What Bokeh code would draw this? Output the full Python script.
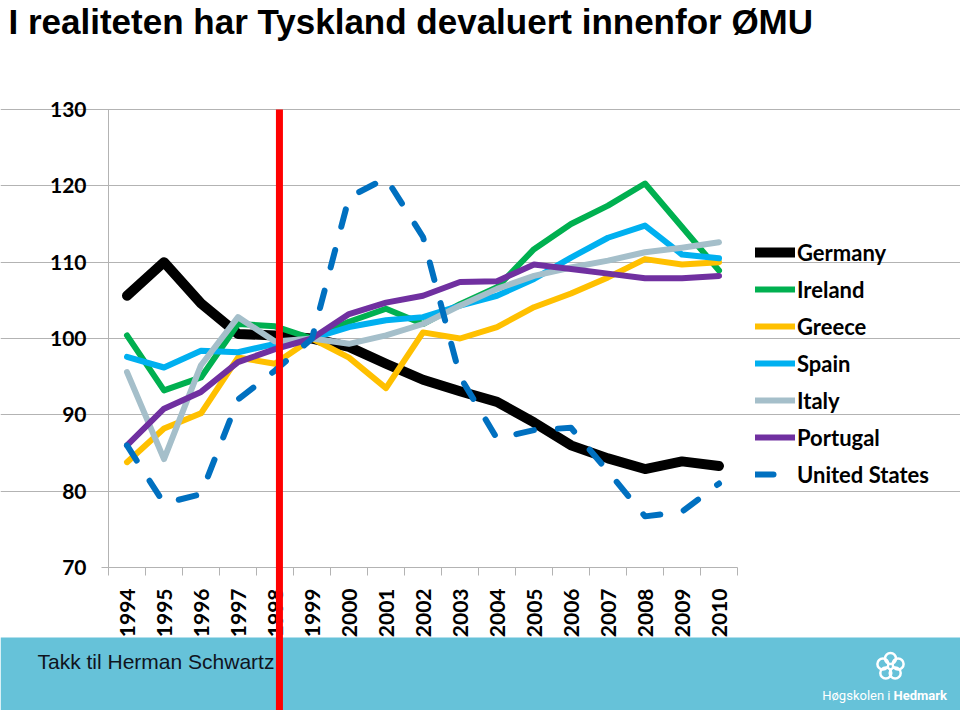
import math
from bokeh.plotting import figure
from bokeh.models import (Range1d, FixedTicker, Label, BoxAnnotation, Legend,
                          LegendItem)
from bokeh.embed import file_html
from bokeh.resources import INLINE

# ---------------- data ----------------
years = list(range(1994, 2011))
germany  = [105.6, 110.0, 104.6, 100.6, 100.4, 100.0, 98.9, 96.7, 94.6, 93.1, 91.7, 89.0, 86.0, 84.3, 82.9, 83.9, 83.3]
ireland  = [100.4, 93.2, 94.9, 101.9, 101.6, 100.0, 102.2, 103.9, 101.9, 104.5, 106.7, 111.7, 115.0, 117.4, 120.3, 114.6, 108.9]
greece   = [83.8, 88.2, 90.2, 97.5, 96.7, 100.0, 97.5, 93.5, 100.8, 100.0, 101.5, 104.1, 105.9, 108.0, 110.4, 109.7, 110.0]
spain    = [97.6, 96.2, 98.4, 98.2, 99.3, 100.0, 101.5, 102.4, 102.8, 104.3, 105.6, 107.8, 110.6, 113.2, 114.8, 111.0, 110.5]
italy    = [95.6, 84.2, 96.5, 102.8, 99.6, 100.0, 99.3, 100.4, 101.9, 104.3, 106.5, 108.2, 109.3, 110.2, 111.3, 111.9, 112.6]
portugal = [86.0, 90.8, 93.0, 96.9, 98.6, 100.0, 103.2, 104.7, 105.6, 107.4, 107.5, 109.7, 109.1, 108.5, 107.9, 107.9, 108.2]
usa      = [86.0, 78.4, 79.6, 92.0, 95.8, 100.0, 118.5, 121.0, 113.3, 95.0, 86.9, 88.0, 88.3, 82.6, 76.7, 77.3, 81.0]

series_names = ["Germany", "Ireland", "Greece", "Spain", "Italy", "Portugal", "United States"]
series_values = [germany, ireland, greece, spain, italy, portugal, usa]
series_colors = ["#000000", "#00B050", "#FFC000", "#00B0F0", "#A5BFCA", "#7030A0", "#0070C0"]
series_widths = [10, 6, 6, 6, 6, 6, 6]
series_dashes = ["solid", "solid", "solid", "solid", "solid", "solid", "18 24"]

y_ticks = [70, 80, 90, 100, 110, 120, 130]
euro_year = 1998.12  # marker line (start of EMU)

title_text = "I realiteten har  Tyskland devaluert innenfor ØMU"
footer_text = "Takk til Herman Schwartz"

# ---------------- layout (canvas pixels) ----------------
W, H = 960, 710
plot_left, plot_right = 108, 737
y_top_px, y_bot_px = 109, 567      # pixel rows of 130 and 70
band_top_px = 637

px_x = (plot_right - plot_left) / 17.0
x_start = 1993.5 - plot_left / px_x
x_end = 2010.5 + (W - plot_right) / px_x
px_y = (y_bot_px - y_top_px) / 60.0
y_end = 130 + y_top_px / px_y
y_start = 70 - (H - y_bot_px) / px_y
band_top = 70 - (band_top_px - y_bot_px) / px_y

p = figure(width=W, height=H, output_backend="svg", toolbar_location=None,
           x_range=Range1d(x_start, x_end), y_range=Range1d(y_start, y_end),
           min_border=0, min_border_left=0, min_border_right=0,
           min_border_top=0, min_border_bottom=0, title=None)
p.outline_line_color = None
p.background_fill_color = "white"
p.border_fill_color = "white"

GRID = "#B3B3B3"

# x axis
xa = p.xaxis[0]
xa.fixed_location = 70
xa.bounds = (1993.5, 2010.5)
xa.ticker = FixedTicker(ticks=years, minor_ticks=[y - 0.5 for y in years] + [2010.5])
xa.major_label_overrides = {y: str(y) for y in years}
xa.major_label_orientation = math.pi / 2
xa.major_tick_line_color = None
xa.major_tick_out = 0
xa.major_tick_in = 0
xa.minor_tick_out = 8
xa.minor_tick_in = 0
xa.minor_tick_line_color = GRID
xa.axis_line_color = GRID
xa.major_label_standoff = 13
xa.major_label_text_font = "Lato"
xa.major_label_text_font_style = "bold"
xa.major_label_text_font_size = "21px"
xa.major_label_text_color = "#000000"

# y axis
ya = p.yaxis[0]
ya.fixed_location = 1993.5
ya.bounds = (70, 130)
ya.ticker = FixedTicker(ticks=y_ticks, minor_ticks=[])
ya.major_tick_out = 7
ya.major_tick_in = 0
ya.major_tick_line_color = GRID
ya.minor_tick_line_color = None
ya.axis_line_color = GRID
ya.major_label_standoff = 15
ya.major_label_text_font = "Lato"
ya.major_label_text_font_style = "bold"
ya.major_label_text_font_size = "21px"
ya.major_label_text_color = "#000000"

p.xgrid.visible = False
p.ygrid.ticker = FixedTicker(ticks=y_ticks[1:])
p.ygrid.bounds = (1993.5, 2010.5)
p.ygrid.grid_line_color = GRID

# footer band
band = BoxAnnotation(top=band_top, bottom=y_start, left=x_start, right=x_end,
                     fill_color="#66C2D9", fill_alpha=1.0, line_color=None,
                     level="underlay")
p.add_layout(band)

# series
items = []
for name, vals, col, w, dash in zip(series_names, series_values, series_colors,
                                    series_widths, series_dashes):
    r = p.line(years, vals, line_color=col, line_width=w, line_dash=dash,
               line_join="round", line_cap="round")
    items.append(LegendItem(label=name, renderers=[r]))

# red EMU line
p.segment(x0=[euro_year], y0=[130], x1=[euro_year], y1=[y_start],
          line_color="#FF0000", line_width=7, level="overlay")

legend = Legend(items=items, location=(755, 221), orientation="vertical",
                glyph_width=40, glyph_height=30, label_height=30, spacing=7,
                padding=0, margin=0, border_line_color=None,
                background_fill_alpha=0, label_standoff=2,
                label_text_font="Lato", label_text_font_style="bold",
                label_text_font_size="22px", label_text_color="#000000")
p.add_layout(legend)

# title
p.add_layout(Label(x=8, y=H - 1, x_units="screen", y_units="screen",
                   text=title_text, text_font="Liberation Sans",
                   text_font_style="bold", text_font_size="35px",
                   text_baseline="top", text_color="#000000"))

# footer text
p.add_layout(Label(x=37, y=H - 661, x_units="screen", y_units="screen",
                   text=footer_text, text_font="Liberation Sans",
                   text_font_size="21px", text_baseline="alphabetic",
                   text_color="#10141E", level="annotation"))

# logo emblem (decorative rings) and text
logo_cx, logo_cy, logo_r = 890, 666, 8
ring_x = [x_start + (logo_cx + logo_r * math.cos(math.radians(90 + 72 * k))) / px_x for k in range(5)]
ring_y = [y_end - (logo_cy - logo_r * math.sin(math.radians(90 + 72 * k))) / px_y for k in range(5)]
p.scatter(ring_x, ring_y, marker="circle", size=11, fill_color=None,
          line_color="white", line_width=2.5, level="annotation")

p.add_layout(Label(x=890, y=H - 702, x_units="screen", y_units="screen",
                   text="Høgskolen i", text_font="Roboto", text_font_size="13px",
                   text_align="right", text_color="white"))
p.add_layout(Label(x=893, y=H - 702, x_units="screen", y_units="screen",
                   text="Hedmark", text_font="Roboto", text_font_style="bold",
                   text_font_size="13px", text_align="left", text_color="white"))

open("out.html", "w").write(file_html(p, INLINE))
